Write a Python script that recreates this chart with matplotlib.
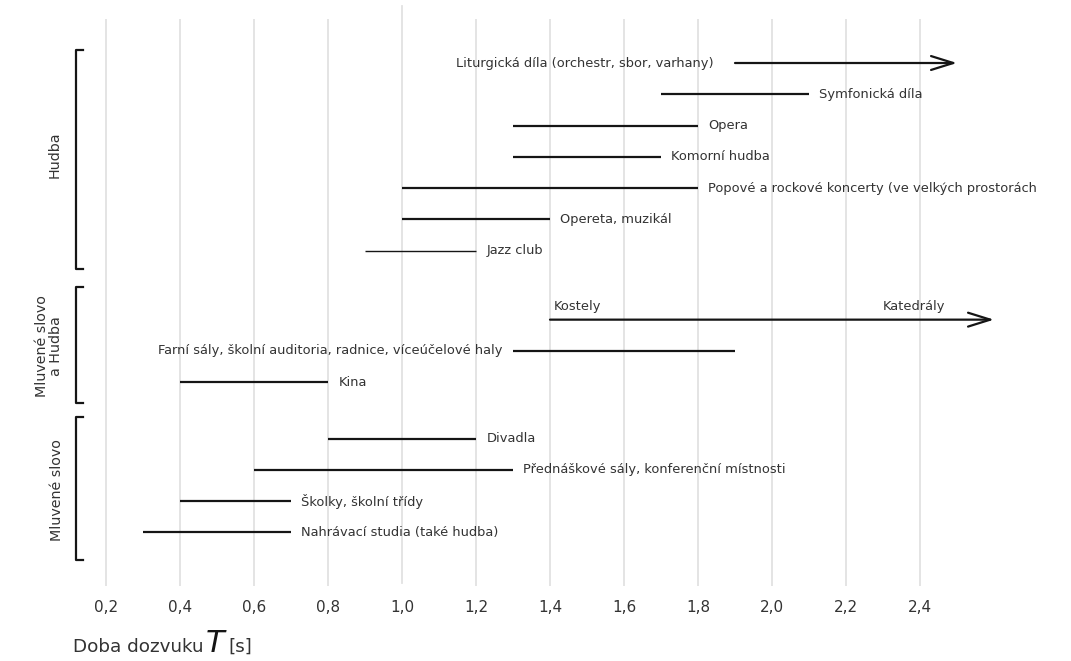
import matplotlib
matplotlib.use("Agg")
import matplotlib.pyplot as plt

# doba dozvuku pro ruzne typy prostor (od, do) v sekundach
nazvy = ["Liturgická díla (orchestr, sbor, varhany)", "Symfonická díla", "Opera",
         "Komorní hudba", "Popové a rockové koncerty (ve velkých prostorách",
         "Opereta, muzikál", "Jazz club",
         "", "Farní sály, školní auditoria, radnice, víceúčelové haly", "Kina",
         "Divadla", "Přednáškové sály, konferenční místnosti", "Školky, školní třídy",
         "Nahrávací studia (také hudba)"]
T_od = [1.9, 1.7, 1.3, 1.3, 1.0, 1.0, 0.9, 1.4, 1.3, 0.4, 0.8, 0.6, 0.4, 0.3]
T_do = [2.5, 2.1, 1.8, 1.7, 1.8, 1.4, 1.2, 2.6, 1.9, 0.8, 1.2, 1.3, 0.7, 0.7]
sipka = [True, False, False, False, False, False, False, True, False, False, False, False, False, False]
popis_vlevo = [True, False, False, False, False, False, False, False, True, False, False, False, False, False]

skupiny = ["Hudba", "Mluvené slovo\na Hudba", "Mluvené slovo"]
ticky = [0.2, 0.4, 0.6, 0.8, 1.0, 1.2, 1.4, 1.6, 1.8, 2.0, 2.2, 2.4]
tick_popisky = ["0,2", "0,4", "0,6", "0,8", "1,0", "1,2", "1,4", "1,6", "1,8", "2,0", "2,2", "2,4"]

# rozlozeni (radky shora dolu)
radky = [0, 1, 2, 3, 4, 5, 6, 8.2, 9.2, 10.2, 12, 13, 14, 15]
zavorky = [(-0.415, 6.58), (7.16, 10.86), (11.31, 15.88)]
skup_y = [2.94, 9.04, 13.64]
skup_x = [0.062, 0.046, 0.0676]

FONT = "DejaVu Sans"
TXT = "#333333"
CARA = "#151515"
GRID = "#e2e2e2"
FS = 9.4

fig = plt.figure(figsize=(10.71, 6.61), dpi=100)
# osa: 0.1 -> 69 px, 370 px na sekundu; svisle 19 px .. 586 px
ax = fig.add_axes([69 / 1071, 1 - 586 / 661, 980.5 / 1071, (586 - 19) / 661])
ax.set_xlim(0.1, 2.75)
ax.set_ylim(16.71, -1.406)
for s in ax.spines.values():
    s.set_visible(False)
ax.set_yticks([])
ax.set_xticks(ticky)
ax.set_xticklabels(tick_popisky, fontsize=11, color=TXT, family=FONT)
ax.tick_params(axis="x", length=0, pad=10)

for t in ticky:
    if t == 1.0:
        ax.plot([t, t], [-1.821, 16.61], color=GRID, lw=1.3, zorder=0, clip_on=False)
    else:
        ax.axvline(t, color=GRID, lw=1.3, zorder=0)

gap = 0.028
for i, nazev in enumerate(nazvy):
    y = radky[i]
    lw = 1.0 if nazev == "Jazz club" else 1.6
    if sipka[i]:
        ax.annotate("", xy=(T_do[i], y), xytext=(T_od[i], y),
                    arrowprops=dict(arrowstyle="->,head_length=1.6,head_width=0.5",
                                    lw=lw, color=CARA, shrinkA=0, shrinkB=0))
    else:
        ax.plot([T_od[i], T_do[i]], [y, y], color=CARA, lw=lw, solid_capstyle="butt")
    if not nazev:
        continue
    if popis_vlevo[i]:
        x = T_od[i] - (0.058 if i == 0 else gap)
        ax.text(x, y, nazev, ha="right", va="center", fontsize=FS, color=TXT, family=FONT)
    else:
        ax.text(T_do[i] + gap, y, nazev, ha="left", va="center",
                fontsize=FS, color=TXT, family=FONT)

# Kostely / Katedraly nad sipkou
ax.text(1.41, radky[7] - 0.42, "Kostely", ha="left", va="center", fontsize=FS, color=TXT, family=FONT)
ax.text(2.30, radky[7] - 0.42, "Katedrály", ha="left", va="center", fontsize=FS, color=TXT, family=FONT)

# zavorky skupin
for (y0, y1), nazev, gy, gx in zip(zavorky, skupiny, skup_y, skup_x):
    ax.plot([0.138, 0.119, 0.119, 0.138], [y0, y0, y1, y1], color=CARA, lw=1.6, clip_on=False)
    ax.text(gx, gy, nazev, rotation=90, ha="center", va="center", fontsize=10.3,
            color=TXT, family=FONT, linespacing=0.95, multialignment="center")

# popisek osy
fig.text(73 / 1071, 1 - 647 / 661, "Doba dozvuku", ha="left", va="center", fontsize=13.2,
         color=TXT, family=FONT)
fig.text(206 / 1071, 1 - 643 / 661, "T", ha="left", va="center", fontsize=22,
         color=CARA, family=FONT, style="italic")
fig.text(228 / 1071, 1 - 647 / 661, "[s]", ha="left", va="center", fontsize=13.2,
         color=TXT, family=FONT)

fig.savefig("out.png", dpi=100)
